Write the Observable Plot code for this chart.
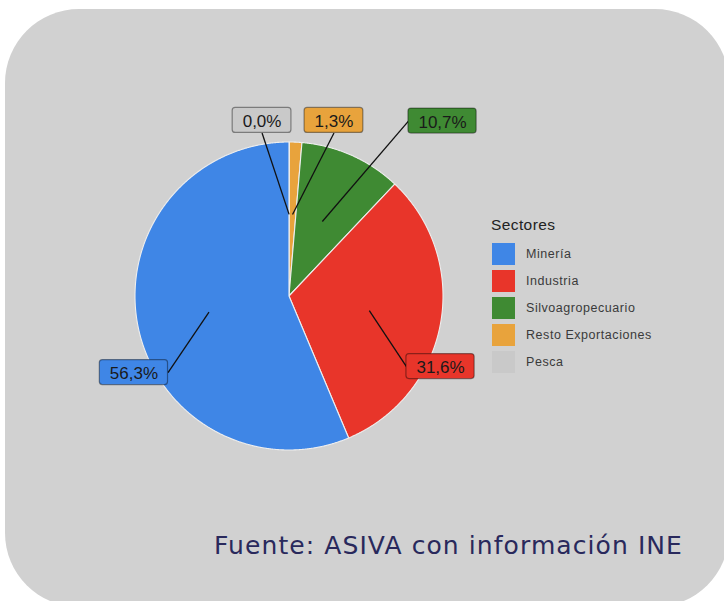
<!DOCTYPE html>
<html><head><meta charset="utf-8">
<script src="https://cdn.jsdelivr.net/npm/d3@7"></script>
<script src="https://cdn.jsdelivr.net/npm/@observablehq/plot@0.6"></script>
<style>
html,body{margin:0;padding:0;background:#fff;width:724px;height:601px;overflow:hidden;}
#box{position:absolute;left:5px;top:9px;width:724px;height:598px;border-radius:74px;background:#d1d1d1;}
#chart{position:absolute;left:0;top:0;width:724px;height:601px;}
#legend{position:absolute;left:0;top:0;font-family:"Liberation Sans",Arial,sans-serif;}
#legend .title{position:absolute;left:491px;top:217px;font-size:15.5px;line-height:15.5px;letter-spacing:0.4px;color:#222;white-space:nowrap;}
#legend .sw{position:absolute;left:492px;width:23px;height:22px;}
#legend .lab{position:absolute;left:526px;font-size:12.5px;line-height:12.5px;letter-spacing:0.55px;color:#3a3a3a;white-space:nowrap;}
#caption{position:absolute;left:214px;top:533px;font-family:"DejaVu Sans",sans-serif;font-size:25px;line-height:25px;color:#29295c;white-space:nowrap;}
</style></head><body>
<div id="box"></div>
<div id="chart"></div>
<div id="legend"></div>
<div id="caption">Fuente: ASIVA con información INE</div>
<script>
// ---- data ----
const sectors = ["Pesca", "Resto Exportaciones", "Silvoagropecuario", "Industria", "Minería"];
const shares = [0.04, 1.3, 10.7, 31.6, 56.3];
const labels = ["0,0%", "1,3%", "10,7%", "31,6%", "56,3%"];
const colors = ["#c9c9c9", "#e8a33c", "#3f8a33", "#e8352a", "#3f86e6"];
const legendOrder = ["Minería", "Industria", "Silvoagropecuario", "Resto Exportaciones", "Pesca"];
const legendTitle = "Sectores";

// ---- layout (not data) ----
const W = 724, H = 601, CX = 288.5, CY = 295.5, R = 154;
// repelled label centres, in units of the pie radius (x right, y up)
const labelPos = {
  "Pesca": [-0.175, 1.140],
  "Resto Exportaciones": [0.292, 1.140],
  "Silvoagropecuario": [0.997, 1.136],
  "Industria": [0.984, -0.458],
  "Minería": [-1.007, -0.497]
};
const labelFont = "17px 'Liberation Sans', Arial, sans-serif";
const padX = 10, boxH = 25, innerR = 0.53;

const rows = sectors.map((s, i) => ({sector: s, share: shares[i], label: labels[i]}));
const arcs = d3.pie().sort(null).value(d => d.share).startAngle(0).endAngle(2 * Math.PI)(rows);

// slice polygons in unit-circle coordinates
const pieRows = [];
arcs.forEach(a => {
  const s = a.data.sector;
  pieRows.push({sector: s, x: 0, y: 0});
  const n = Math.max(2, Math.ceil((a.endAngle - a.startAngle) / (Math.PI / 720)));
  for (let k = 0; k <= n; k++) {
    const t = a.startAngle + (a.endAngle - a.startAngle) * k / n;
    pieRows.push({sector: s, x: Math.sin(t), y: Math.cos(t)});
  }
  pieRows.push({sector: s, x: 0, y: 0});
});

// label boxes & leader lines
const ctx = document.createElement("canvas").getContext("2d");
ctx.font = labelFont;
const labelRows = arcs.map(a => {
  const s = a.data.sector;
  const mid = (a.startAngle + a.endAngle) / 2;
  const [lx, ly] = labelPos[s];
  const w = (ctx.measureText(a.data.label).width + 2 * padX) / R;
  const h = boxH / R;
  const px = innerR * Math.sin(mid), py = innerR * Math.cos(mid);
  const cands = [[lx - w / 2, ly], [lx + w / 2, ly], [lx, ly - h / 2], [lx, ly + h / 2]];
  const best = d3.least(cands, c => (c[0] - px) ** 2 + (c[1] - py) ** 2);
  return {sector: s, label: a.data.label, cx: lx, cy: ly,
          x1: lx - w / 2, x2: lx + w / 2, y1: ly - h / 2, y2: ly + h / 2,
          px, py, ax: best[0], ay: best[1]};
});

const chart = Plot.plot({
  width: W, height: H, margin: 0,
  x: {domain: [-CX / R, (W - CX) / R], axis: null},
  y: {domain: [(CY - H) / R, CY / R], axis: null},
  color: {domain: sectors, range: colors},
  style: {background: "transparent", overflow: "visible"},
  marks: [
    Plot.line(pieRows, {x: "x", y: "y", z: "sector", fill: "sector", stroke: "#eeeeee", strokeWidth: 1.1, curve: "linear"}),
    Plot.link(labelRows, {x1: "px", y1: "py", x2: "ax", y2: "ay", stroke: "#111", strokeWidth: 1.3}),
    Plot.rect(labelRows, {x1: "x1", x2: "x2", y1: "y1", y2: "y2", fill: "sector", rx: 3, stroke: "#000", strokeOpacity: 0.4, strokeWidth: 1.2}),
    Plot.text(labelRows, {x: "cx", y: "cy", text: "label", fontSize: 17, fontFamily: "'Liberation Sans', Arial, sans-serif", fill: "#1a1a1a", dy: 1})
  ]
});
document.getElementById("chart").appendChild(chart);

// legend
const leg = document.getElementById("legend");
const t = document.createElement("div");
t.className = "title"; t.textContent = legendTitle; leg.appendChild(t);
legendOrder.forEach((s, i) => {
  const top = 243 + i * 27;
  const sw = document.createElement("div");
  sw.className = "sw"; sw.style.top = top + "px";
  sw.style.background = colors[sectors.indexOf(s)];
  leg.appendChild(sw);
  const lb = document.createElement("div");
  lb.className = "lab"; lb.style.top = (top + 5) + "px"; lb.textContent = s;
  leg.appendChild(lb);
});

// caption: stretch to the reference width
const cap = document.getElementById("caption");
const capW = cap.getBoundingClientRect().width;
const n = cap.textContent.length;
cap.style.letterSpacing = ((469 - capW) / n) + "px";
</script>
</body></html>
